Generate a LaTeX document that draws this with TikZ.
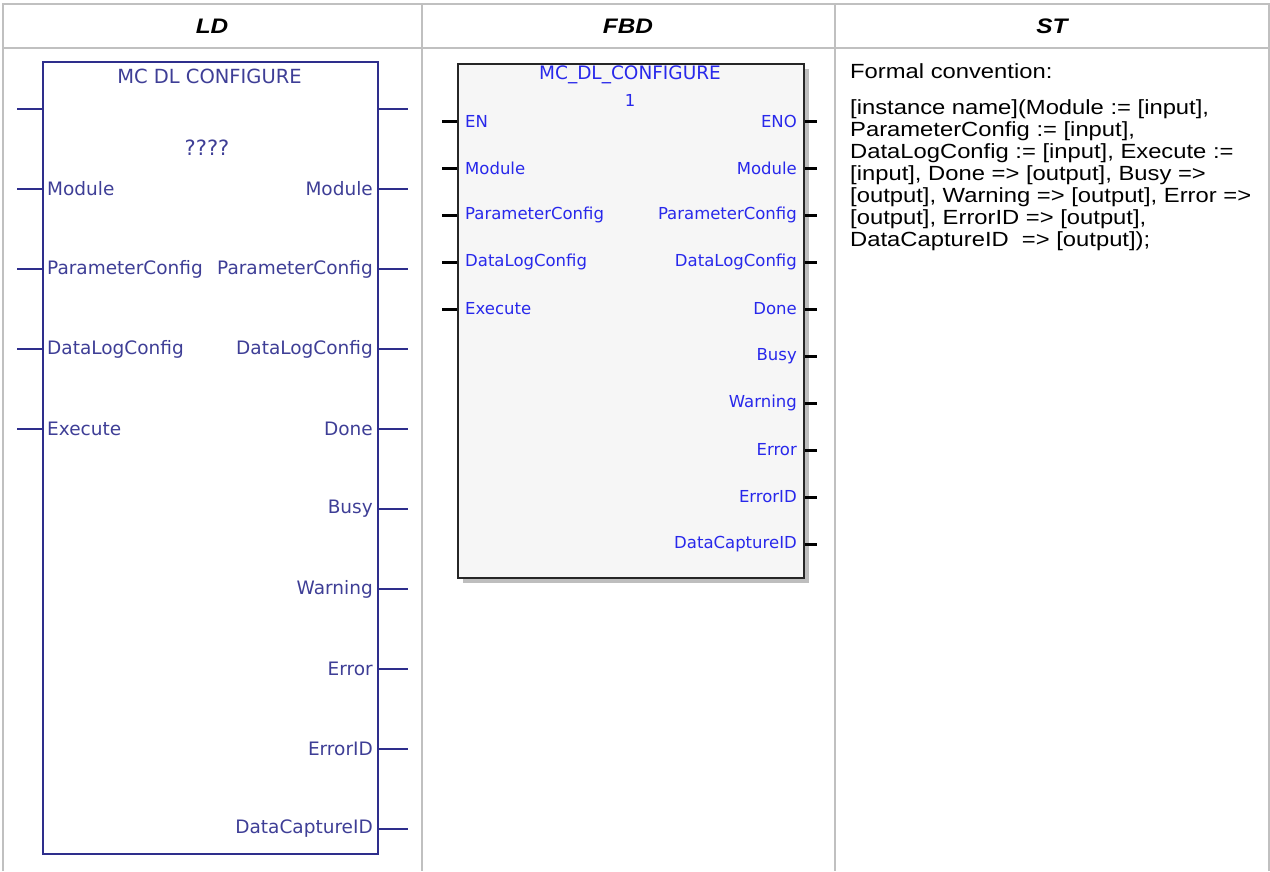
\documentclass[tikz,border=0pt]{standalone}
\usepackage{fontspec}
\setmainfont{Liberation Sans}
\newfontfamily\pinfont{DejaVu Sans}
\newfontfamily\stfont[FakeStretch=1.16]{Liberation Sans}
\usetikzlibrary{positioning}
\usetikzlibrary{calc}

\definecolor{gridgray}{RGB}{192,192,192}
\definecolor{ldblue}{RGB}{46,46,140}
\definecolor{ldtext}{RGB}{62,62,150}
\definecolor{fbdtext}{RGB}{40,40,235}
\definecolor{fbdfill}{RGB}{246,246,246}
\definecolor{shadowgray}{RGB}{190,190,190}

\tikzset{
  gridline/.style={draw=gridgray,line width=1.5pt},
  ldpin/.style={draw=ldblue,line width=2pt},
  fbdpin/.style={draw=black,line width=3pt},
  ldlabel/.style={font=\pinfont\fontsize{18.5}{20}\selectfont,text=ldtext,inner sep=0pt},
  fbdlabel/.style={font=\pinfont\fontsize{16.5}{18}\selectfont,text=fbdtext,inner sep=0pt},
  headlabel/.style={font=\stfont\fontsize{21}{24}\selectfont\bfseries\itshape,inner sep=0pt},
  sttext/.style={font=\stfont\fontsize{20.5}{22}\selectfont,align=left,inner sep=0pt},
}

\begin{document}
\begin{tikzpicture}[x=1pt,y=-1pt]
\useasboundingbox (0,0) rectangle (1270,871);

% table grid
\coordinate (tl) at (3,4);
\coordinate (tr) at (1269,4);
\coordinate (hl) at (3,48);
\coordinate (hr) at (1269,48);
\draw[gridline] (3,871) -- (tl) -- (tr) -- (1269,871);
\draw[gridline] (hl) -- (hr);
\draw[gridline] (422,4) -- (422,871);
\draw[gridline] (835,4) -- (835,871);

\node[headlabel] (hdld) at (212,26) {LD};
\node[headlabel] (hdfbd) at (628,26) {FBD};
\node[headlabel] (hdst) at (1052,26) {ST};

% LD block
\node[draw=ldblue,line width=2pt,minimum width=335pt,minimum height=792pt,
      anchor=north west,inner sep=0pt] (ldblock) at (42,61) {};
\node[ldlabel,font=\pinfont\fontsize{19.5}{20}\selectfont] (ldtitle) at (209.5,76) {MC DL CONFIGURE};
\node[ldlabel,font=\pinfont\fontsize{21}{22}\selectfont] (ldinst) at (207,148) {????};

\coordinate (ldinA0) at (17,109);
\coordinate (ldinB0) at (ldblock.west |- ldinA0);
\draw[ldpin] (ldinA0) -- (ldinB0);
\foreach \lbl [count=\k] in {Module,ParameterConfig,DataLogConfig,Execute} {
  \coordinate (ldinA\k) at (17,109+80*\k);
  \coordinate (ldinB\k) at (ldblock.west |- ldinA\k);
  \draw[ldpin] (ldinA\k) -- (ldinB\k);
  \node[ldlabel,anchor=west] (ldinL\k) at ([xshift=5pt]ldinB\k) {\lbl};
}

\coordinate (ldoutA0) at (408,109);
\coordinate (ldoutB0) at (ldblock.east |- ldoutA0);
\draw[ldpin] (ldoutB0) -- (ldoutA0);
\foreach \lbl [count=\k] in {Module,ParameterConfig,DataLogConfig,Done,Busy,Warning,Error,ErrorID,DataCaptureID} {
  \coordinate (ldoutA\k) at (408,109+80*\k);
  \coordinate (ldoutB\k) at (ldblock.east |- ldoutA\k);
  \draw[ldpin] (ldoutB\k) -- (ldoutA\k);
  \node[ldlabel,anchor=east] (ldoutL\k) at ([xshift=-6pt]ldoutB\k) {\lbl};
}

% FBD block
\node[fill=shadowgray,minimum width=346pt,minimum height=514pt,
      anchor=north west,inner sep=0pt] (fbdshadow) at (463,69) {};
\node[draw=black!85,fill=fbdfill,line width=2pt,minimum width=346pt,minimum height=514pt,
      anchor=north west,inner sep=0pt] (fbdblock) at (457,63) {};
\node[fbdlabel,font=\pinfont\fontsize{18.5}{20}\selectfont] (fbdtitle) at (630,75) {MC\_DL\_CONFIGURE};
\node[fbdlabel] (fbdinst) at (630,100) {1};

\foreach \lbl [count=\k from 0] in {EN,Module,ParameterConfig,DataLogConfig,Execute} {
  \coordinate (fbdinA\k) at (442,121+47*\k);
  \coordinate (fbdinB\k) at (fbdblock.west |- fbdinA\k);
  \draw[fbdpin] (fbdinA\k) -- (fbdinB\k);
  \node[fbdlabel,anchor=west] (fbdinL\k) at ([xshift=8pt]fbdinB\k) {\lbl};
}
\foreach \lbl [count=\k from 0] in {ENO,Module,ParameterConfig,DataLogConfig,Done,Busy,Warning,Error,ErrorID,DataCaptureID} {
  \coordinate (fbdoutA\k) at (817,121+47*\k);
  \coordinate (fbdoutB\k) at (fbdblock.east |- fbdoutA\k);
  \draw[fbdpin] (fbdoutB\k) -- (fbdoutA\k);
  \node[fbdlabel,anchor=east] (fbdoutL\k) at ([xshift=-8pt]fbdoutB\k) {\lbl};
}

% ST text
\node[sttext,anchor=base west] (stconv) at (850,78) {Formal convention:};
\node[sttext,anchor=north west] (stbody) at (850,99) {[instance name](Module := [input],\\
ParameterConfig := [input],\\
DataLogConfig := [input], Execute :=\\
{}[input], Done => [output], Busy =>\\
{}[output], Warning => [output], Error =>\\
{}[output], ErrorID => [output],\\
DataCaptureID\ \ => [output]);};
\end{tikzpicture}
\end{document}
